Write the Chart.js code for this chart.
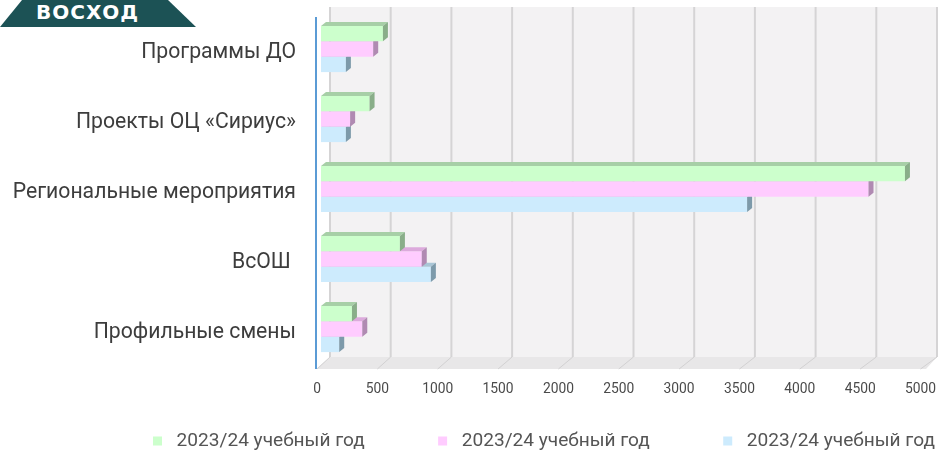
<!DOCTYPE html>
<html>
<head>
<meta charset="utf-8">
<script src="https://cdn.jsdelivr.net/npm/chart.js@4.4.1/dist/chart.umd.min.js"></script>
<style>
  html, body { margin: 0; padding: 0; background: #fff; }
  #wrap { position: relative; width: 938px; height: 453px; }
  #logo {
    position: absolute; left: 0; top: 0; width: 196px; height: 27px;
    background: #1c5255;
    clip-path: polygon(22px 0, 168px 0, 196px 27px, 0 27px);
    color: #fff; font: 900 20px 'DejaVu Sans', sans-serif; letter-spacing: 1px;
    line-height: 25px; text-indent: 36px; box-sizing: border-box;
  }
</style>
</head>
<body>
<div id="wrap">
  <canvas id="chart" width="938" height="453"></canvas>
  <div id="logo">ВОСХОД</div>
</div>
<script>
// --- данные ---
const CATEGORIES = ['Программы ДО', 'Проекты ОЦ «Сириус»', 'Региональные мероприятия', 'ВсОШ ', 'Профильные смены'];
const SERIES_LABELS = ['2023/24 учебный год', '2023/24 учебный год', '2023/24 учебный год'];
const GREEN_VALUES = [510, 400, 4810, 650, 255];
const PINK_VALUES = [430, 240, 4510, 830, 340];
const BLUE_VALUES = [205, 205, 3510, 905, 150];
const X_TICKS = [0, 500, 1000, 1500, 2000, 2500, 3000, 3500, 4000, 4500, 5000];

// --- оформление ---
const FONT = "Roboto, 'Noto Sans', sans-serif";
const FRONT = ['#ccffcc', '#ffccff', '#cdebfd'];
const TOP = ['#a7cfa7', '#dcaadc', '#a9c6d6'];
const SIDE = ['#89ae89', '#b08ab2', '#7d9aaa'];
const BAR_DX = 5, BAR_DY = -4;   // глубина столбиков
const WALL_DX = 9;               // сдвиг задней стенки

// подгоняем кегль под ширину надписей оригинала
const mctx = document.createElement('canvas').getContext('2d');
function fitFont(text, width, guess) {
  mctx.font = `${guess}px ${FONT}`;
  return Math.round(guess * width / mctx.measureText(text).width * 10) / 10;
}
const LABEL_SIZE = fitFont('Региональные мероприятия', 283, 25);
const TICK_SIZE = fitFont('1000', 31, 18);
const LEG_SIZE = fitFont('2023/24 учебный год', 188, 24);
const LEG_BOX = Math.min(24, LEG_SIZE);
const LEG_PAD = 285 - LEG_BOX - LEG_SIZE / 2 - 188;
const LEG_X = 153 - (LEG_BOX / 2 - 4.5);

const depthPlugin = {
  id: 'depth',
  beforeDatasetsDraw(chart) {
    const { ctx, chartArea: a, scales } = chart;
    const x = scales.x, xf = scales.xf;
    const back = v => x.getPixelForValue(v) + WALL_DX;
    const wallTop = a.top - 7, floorBack = a.bottom - 7, floorFront = a.bottom + 5;
    ctx.save();
    // задняя стенка
    ctx.fillStyle = '#f3f2f3';
    ctx.fillRect(back(0), wallTop, chart.width - 1 - back(0), floorBack - wallTop);
    // пол
    ctx.fillStyle = '#e8e7e8';
    ctx.beginPath();
    ctx.moveTo(a.left - 5, floorFront);
    ctx.lineTo(a.right - 2, floorFront);
    ctx.lineTo(chart.width - 1, floorBack);
    ctx.lineTo(back(0), floorBack);
    ctx.closePath();
    ctx.fill();
    // сетка
    X_TICKS.forEach(v => {
      ctx.strokeStyle = '#d5d4d5';
      ctx.lineWidth = 2;
      ctx.beginPath();
      ctx.moveTo(back(v), wallTop);
      ctx.lineTo(back(v), floorBack);
      ctx.stroke();
      ctx.strokeStyle = '#d2d1d2';
      ctx.lineWidth = 1;
      ctx.beginPath();
      ctx.moveTo(xf.getPixelForValue(v), floorFront);
      ctx.lineTo(back(v), floorBack);
      ctx.stroke();
    });
    // передняя ось
    ctx.strokeStyle = '#5b9bd5';
    ctx.lineWidth = 2;
    ctx.beginPath();
    ctx.moveTo(a.left - 5, a.top + 3);
    ctx.lineTo(a.left - 5, floorFront);
    ctx.stroke();
    ctx.restore();
  },
  afterDatasetDraw(chart, args) {
    const ctx = chart.ctx;
    const i = args.index;
    ctx.save();
    args.meta.data.forEach(bar => {
      const { x, y, base, height } = bar.getProps(['x', 'y', 'base', 'height'], true);
      const t = y - height / 2, b = y + height / 2;
      ctx.fillStyle = TOP[i];
      ctx.beginPath();
      ctx.moveTo(base, t);
      ctx.lineTo(x, t);
      ctx.lineTo(x + BAR_DX, t + BAR_DY);
      ctx.lineTo(base + BAR_DX, t + BAR_DY);
      ctx.closePath();
      ctx.fill();
      ctx.fillStyle = SIDE[i];
      ctx.beginPath();
      ctx.moveTo(x, t);
      ctx.lineTo(x + BAR_DX, t + BAR_DY);
      ctx.lineTo(x + BAR_DX, b + BAR_DY);
      ctx.lineTo(x, b);
      ctx.closePath();
      ctx.fill();
    });
    ctx.restore();
  },
  afterLayout(chart) {
    // легенда сдвинута вправо, как в оригинале
    const lg = chart.legend;
    lg.left = LEG_X - LEG_PAD;
    lg.right = chart.width + 300;
    lg.top = 441 - LEG_PAD - LEG_SIZE / 2;
    lg.bottom = chart.height;
  }
};

const dataset = (k, values) => ({
  label: SERIES_LABELS[k],
  data: values,
  backgroundColor: FRONT[k],
  borderWidth: 0,
  categoryPercentage: 0.66,
  barPercentage: 1,
  xAxisID: 'x',
  yAxisID: 'y'
});

new Chart(document.getElementById('chart'), {
  type: 'bar',
  data: {
    labels: CATEGORIES,
    datasets: [dataset(0, GREEN_VALUES), dataset(1, PINK_VALUES), dataset(2, BLUE_VALUES)]
  },
  options: {
    indexAxis: 'y',
    responsive: false,
    animation: false,
    layout: { padding: { left: 0, right: 10, top: 14, bottom: 0 } },
    scales: {
      x: { type: 'linear', min: 0, max: 5000, display: false },
      xf: {
        type: 'linear', axis: 'x', position: 'bottom', min: 33, max: 5062, bounds: 'data',
        grid: { display: false, drawTicks: false },
        border: { display: false },
        afterBuildTicks: s => { s.ticks = X_TICKS.map(v => ({ value: v })); },
        afterFit: s => { s.height = 29; s.paddingLeft = 0; s.paddingRight = 0; },
        ticks: {
          padding: 17, autoSkip: false, maxRotation: 0,
          color: '#4a4a4a', font: { family: FONT, size: TICK_SIZE },
          callback: v => String(v)
        }
      },
      y: {
        grid: { display: false, drawTicks: false },
        border: { display: false },
        afterFit: s => { s.width = 321; s.paddingTop = 0; s.paddingBottom = 0; },
        ticks: { padding: 25, labelOffset: 4, color: '#3d3d3d', font: { family: FONT, size: LABEL_SIZE } }
      }
    },
    plugins: {
      legend: {
        position: 'bottom', align: 'start', maxHeight: 60,
        labels: {
          usePointStyle: true, pointStyle: 'rect', boxWidth: LEG_BOX, boxHeight: 9, padding: LEG_PAD,
          color: '#555555', font: { family: FONT, size: LEG_SIZE }
        }
      },
      tooltip: { enabled: false }
    }
  },
  plugins: [depthPlugin]
});
</script>
</body>
</html>
